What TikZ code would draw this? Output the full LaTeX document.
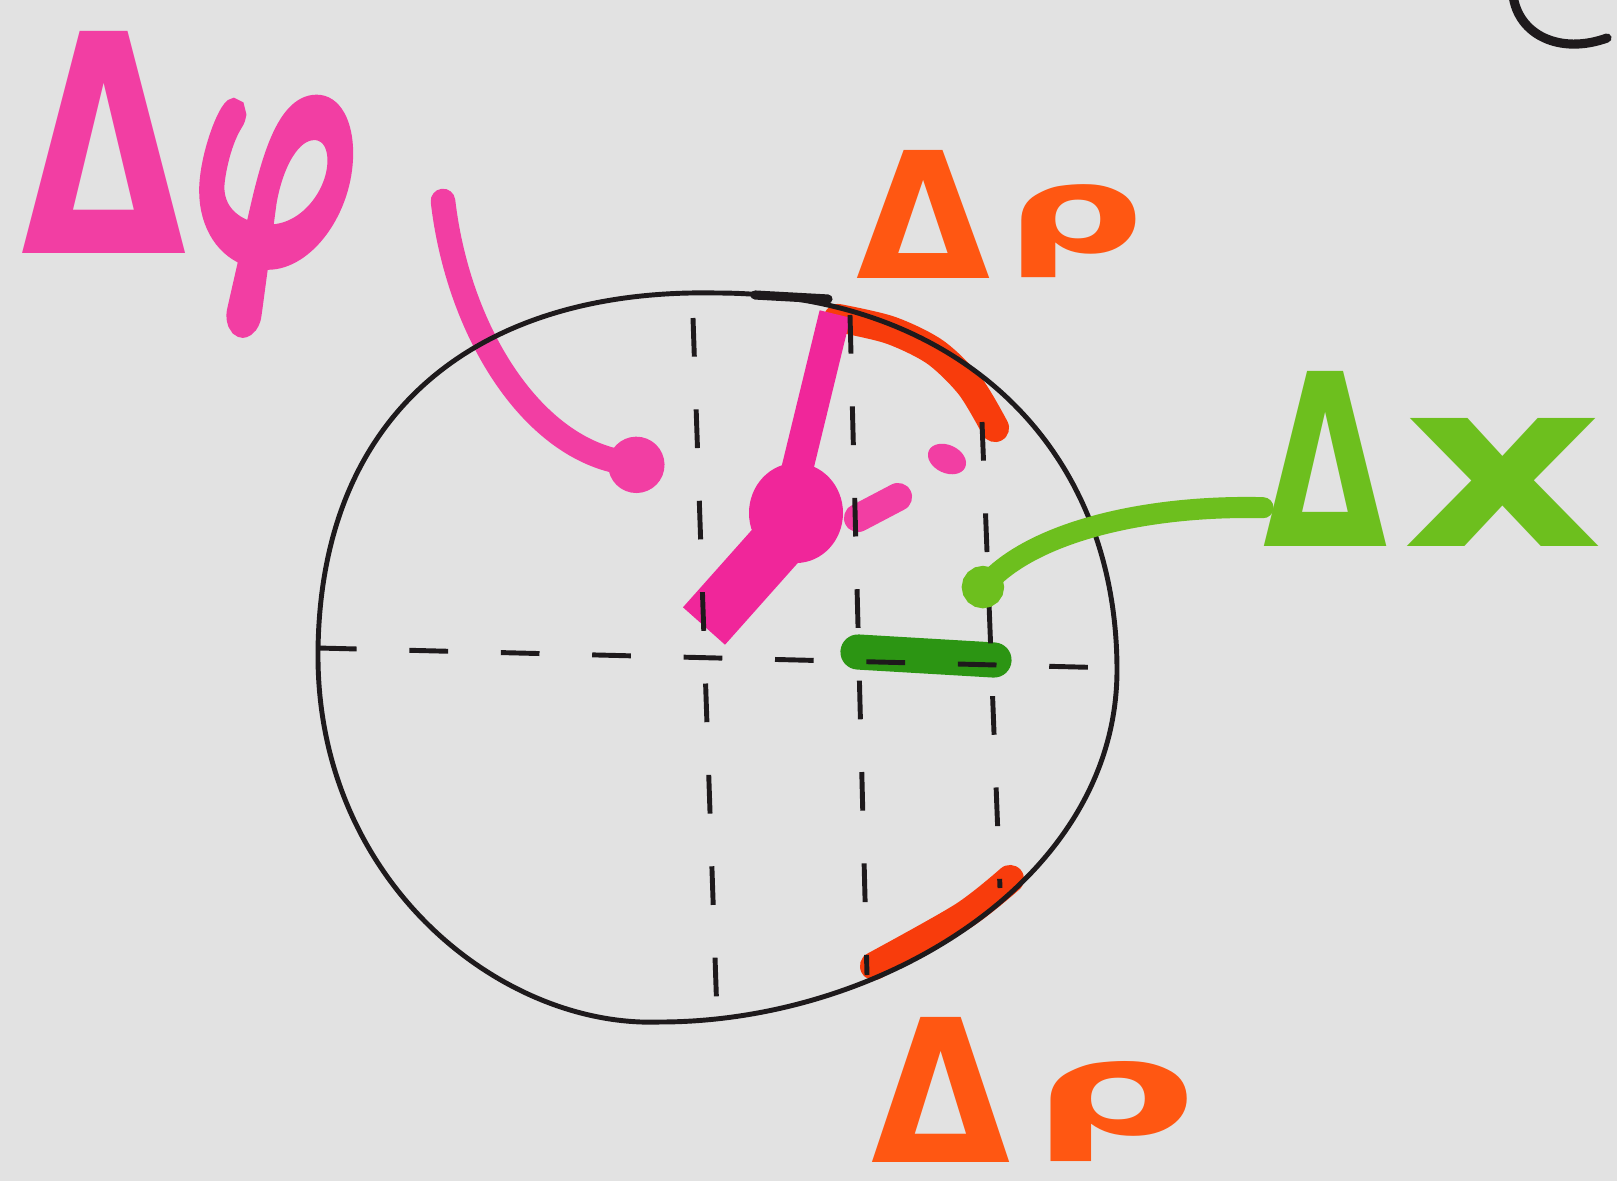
\documentclass[tikz,border=0pt]{standalone}
\usepackage{fontspec}
\setmainfont{DejaVu Sans}
\newfontfamily\fimat{Latin Modern Math}[FakeBold=8]
\usetikzlibrary{arrows.meta}
\definecolor{fundo}{HTML}{E2E2E2}
\definecolor{traco}{HTML}{1E1A1C}
\definecolor{rosa}{HTML}{F23EA3}
\definecolor{magenta}{HTML}{F0269A}
\definecolor{coral}{HTML}{FF5712}
\definecolor{brasa}{HTML}{F83C0C}
\definecolor{verdeclaro}{HTML}{6DBF1E}
\definecolor{verdeescuro}{HTML}{2C9513}

\begin{document}
\begin{tikzpicture}[x=0.01cm,y=-0.01cm,
    rotulo/.style={font=\bfseries, inner sep=0pt, anchor=base west},
    contorno/.style={traco, line width=1.4pt, line join=round},
    tracejado/.style={traco, line width=1.4pt, dash pattern=on 11pt off 15pt},
    faixa/.style={draw=#1, line width=8pt, line cap=round},
    seta/.style={draw=#1, line cap=round}]
  \path[use as bounding box, fill=fundo] (0,0) rectangle (1617,1181);
  % faixas coloridas
  \draw[faixa=brasa] plot[smooth] coordinates {(838,318) (890,330) (935,352) (970,386) (995,428)};
  \draw[faixa=brasa] plot[smooth] coordinates {(874,966) (963,916) (1010,879)};
  \draw[magenta, line width=16pt] (704,626) -- (785,535);
  \fill[magenta] (796,513) ellipse (47 and 50);
  \draw[magenta, line width=9pt] (797,470) -- (835,314);
  \draw[rosa, line width=8pt, line cap=round] (858,518) -- (898,497);
  \fill[rosa, rotate around={-25:(947,459)}] (947,459) ellipse (20 and 14);
  \draw[verdeescuro, line width=10pt, line cap=round] (858,652) -- (994,660);
  % setas
  \coordinate (ini) at (443,201);
  \coordinate (alvo) at (664,470);
  \coordinate (pontax) at (968,602);
  \draw[seta=rosa, line width=7pt, -{Circle[length=16pt,width=16pt]}]
    (ini) .. controls (458,330) and (530,445) .. (alvo);
  % contorno e tracejados
  \draw[contorno] (717,293) .. controls (950,293) and (1117,440) .. (1117,670)
    .. controls (1117,880) and (880,1022) .. (660,1022)
    .. controls (500,1028) and (316,880) .. (318,652)
    .. controls (320,410) and (480,288) .. cycle;
  \draw[traco, line width=2.6pt, line cap=round] (755,295) -- (828,299);
  \draw[tracejado] (318,648) -- (1117,668);
  \draw[tracejado] (693,318) -- (717,1015);
  \draw[tracejado] (850,315) -- (867,975);
  \draw[tracejado] (982,422) -- (1000,888);
  \draw[traco, line width=2.6pt, line cap=round] (1513,-5) .. controls (1518,35) and (1560,55) .. (1607,38);
  % rotulos
  \node[rotulo, text=rosa] (fi) at (21,253)
    {\resizebox{1.65cm}{2.22cm}{Δ}\hspace{0.1cm}\resizebox{1.55cm}{1.45cm}{\fimat 𝜑}};
  \node[rotulo, text=coral] (ro1) at (856,278)
    {\resizebox{1.34cm}{1.28cm}{Δ}\hspace{0.15cm}\resizebox{1.39cm}{0.93cm}{\raisebox{\depth}{ρ}}};
  \node[rotulo, text=coral] (ro2) at (871,1162)
    {\resizebox{1.39cm}{1.45cm}{Δ}\hspace{0.21cm}\resizebox{1.66cm}{1.0cm}{\raisebox{\depth}{ρ}}};
  \node[rotulo, text=verdeclaro] (dx) at (1263,546)
    {\resizebox{1.24cm}{1.75cm}{Δ}\hspace{0.15cm}\resizebox{2.01cm}{1.28cm}{x}};
  \draw[seta=verdeclaro, line width=6pt, -{Circle[length=12pt,width=12pt]}]
    ([yshift=-14pt]dx.west) .. controls (1150,505) and (1040,530) .. (pontax);
\end{tikzpicture}
\end{document}
